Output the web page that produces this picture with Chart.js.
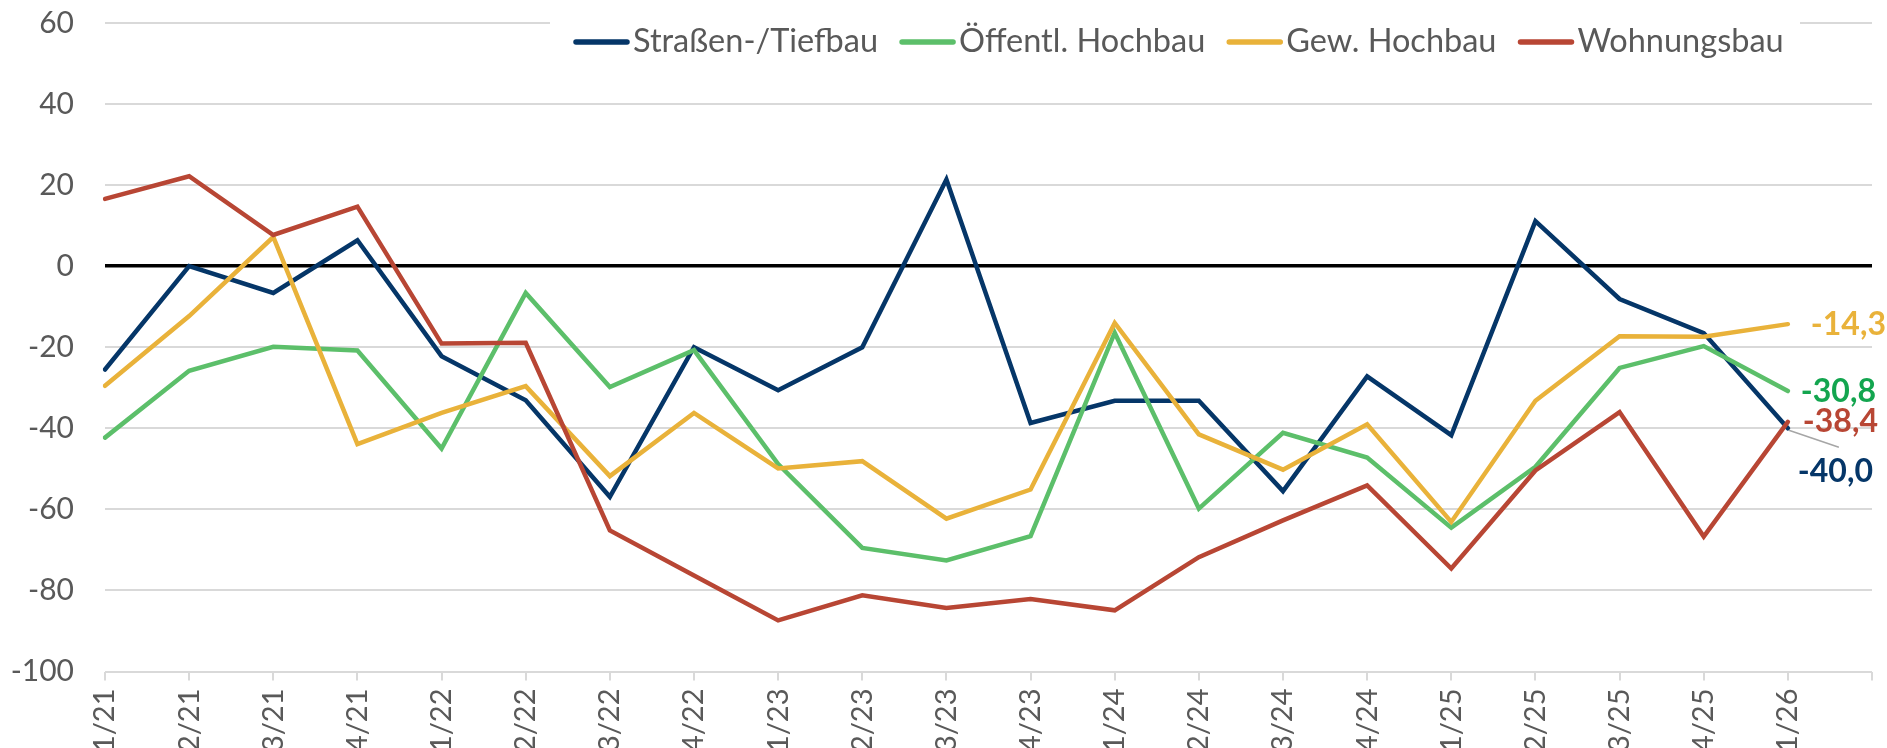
<!DOCTYPE html>
<html>
<head>
<meta charset="utf-8">
<script src="https://cdn.jsdelivr.net/npm/chart.js@4.4.1/dist/chart.umd.min.js"></script>
<style>
  html, body { margin: 0; padding: 0; background: #fff; overflow: hidden; }
  canvas { display: block; }
</style>
</head>
<body>
<canvas id="chart" width="1887" height="748"></canvas>
<script>
// quarters
const categories = ['1/21', '2/21', '3/21', '4/21', '1/22', '2/22', '3/22', '4/22', '1/23', '2/23', '3/23',
  '4/23', '1/24', '2/24', '3/24', '4/24', '1/25', '2/25', '3/25', '4/25', '1/26'];

const strassenTiefbau = [-25.5, 0, -6.6, 6.4, -22.2, -33.1, -56.9, -20.0, -30.6, -20.0, 21.4,
  -38.7, -33.2, -33.2, -55.5, -27.2, -41.7, 11.1, -8.1, -16.5, -40.0];
const oeffentlHochbau = [-42.3, -25.8, -19.9, -20.8, -45.0, -6.6, -29.8, -20.7, -48.8, -69.5, -72.6,
  -66.6, -16.4, -59.8, -41.1, -47.2, -64.5, -49.5, -25.1, -19.7, -30.8];
const gewHochbau = [-29.5, -12.3, 7.2, -43.9, -36.2, -29.6, -51.8, -36.2, -49.9, -48.1, -62.3,
  -55.1, -14.0, -41.5, -50.2, -39.0, -63.1, -33.2, -17.3, -17.4, -14.3];
const wohnungsbau = [16.6, 22.2, 7.7, 14.7, -19.1, -18.9, -65.2, -76.3, -87.4, -81.2, -84.3,
  -82.1, -84.9, -71.8, -62.7, -54.1, -74.6, -50.4, -36.0, -66.7, -38.4];

const yMin = -100;
const yMax = 60;
const yStep = 20;

const FONT = 'Lato, "Open Sans", sans-serif';
const TEXT = '#595959';
const GRID = '#d9d9d9';

// legend inside the plot + value labels at the last point
const overlay = {
  id: 'overlay',
  afterDatasetsDraw(chart) {
    const ctx = chart.ctx;
    ctx.save();
    ctx.font = 'bold 32px ' + FONT;
    ctx.textBaseline = 'middle';
    ctx.textAlign = 'left';
    chart.data.datasets.forEach((ds, i) => {
      const meta = chart.getDatasetMeta(i);
      const pt = meta.data[ds.data.length - 1];
      const v = ds.data[ds.data.length - 1];
      if (ds.endDy > 20) {
        ctx.strokeStyle = '#a6a6a6';
        ctx.lineWidth = 1.5;
        ctx.beginPath();
        ctx.moveTo(pt.x + 1, pt.y + 2);
        ctx.lineTo(pt.x + 51, pt.y + 19);
        ctx.stroke();
      }
      ctx.fillStyle = ds.labelColor;
      ctx.fillText(v.toFixed(1).replace('.', ','), pt.x + ds.endDx, pt.y + ds.endDy);
    });
    ctx.restore();
  },
  afterDraw(chart) {
    const ctx = chart.ctx;
    ctx.save();
    ctx.fillStyle = '#fff';
    ctx.fillRect(550, 0, 1250, 62);
    ctx.font = '32.5px ' + FONT;
    ctx.textBaseline = 'middle';
    ctx.textAlign = 'left';
    let x = 574;
    const y = 42;
    chart.data.datasets.forEach(ds => {
      ctx.strokeStyle = ds.borderColor;
      ctx.lineWidth = 5.5;
      ctx.lineCap = 'round';
      ctx.beginPath();
      ctx.moveTo(x + 2, y);
      ctx.lineTo(x + 53, y);
      ctx.stroke();
      ctx.fillStyle = TEXT;
      ctx.fillText(ds.label, x + 59, y);
      x += 59 + ctx.measureText(ds.label).width + 22;
    });
    ctx.restore();
  }
};

const line = (label, data, color, labelColor, order, endDx, endDy) => ({
  label, data, order, endDx, endDy, labelColor,
  borderColor: color,
  backgroundColor: color,
  borderWidth: 4.5,
  borderCapStyle: 'round',
  borderJoinStyle: 'miter',
  pointRadius: 0,
  tension: 0,
  fill: false
});

new Chart(document.getElementById('chart'), {
  type: 'line',
  data: {
    labels: [...categories, ''],
    datasets: [
      line('Straßen-/Tiefbau', strassenTiefbau, '#053668', '#053668', 4, 10, 43),
      line('Öffentl. Hochbau', oeffentlHochbau, '#5cbf6a', '#13a54f', 3, 13, 1),
      line('Gew. Hochbau', gewHochbau, '#e9b23a', '#e9b23a', 2, 23, 1),
      line('Wohnungsbau', wohnungsbau, '#b84634', '#b84634', 1, 15, 0)
    ]
  },
  options: {
    responsive: false,
    animation: false,
    devicePixelRatio: 1,
    layout: { padding: { top: 23, right: 15, left: 0, bottom: 0 } },
    plugins: { legend: { display: false }, tooltip: { enabled: false } },
    scales: {
      x: {
        offset: false,
        border: { display: false },
        grid: { drawOnChartArea: false, drawTicks: true, tickLength: 9, color: GRID, lineWidth: 2 },
        ticks: {
          autoSkip: false, minRotation: 90, maxRotation: 90, padding: 8,
          color: TEXT, font: { family: FONT, size: 29 }
        },
        afterFit: s => { s.height = 76.5; s.paddingLeft = 0; s.paddingRight = 0; }
      },
      y: {
        min: yMin, max: yMax,
        border: { display: false },
        grid: {
          drawTicks: false,
          color: c => c.tick.value === 0 ? '#000' : GRID,
          lineWidth: c => c.tick.value === 0 ? 3.5 : 2
        },
        ticks: {
          stepSize: yStep, padding: 31,
          color: TEXT, font: { family: FONT, size: 30 }
        },
        afterFit: s => { s.width = 105; s.paddingTop = 0; s.paddingBottom = 0; }
      }
    }
  },
  plugins: [overlay]
});
</script>
</body>
</html>
